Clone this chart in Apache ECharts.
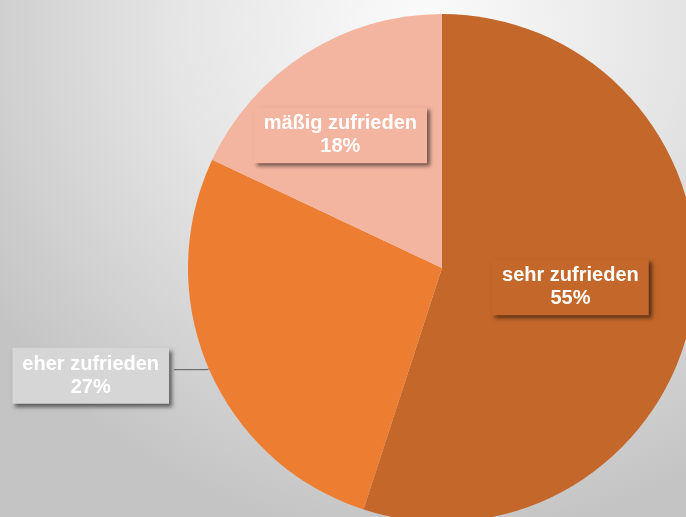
<!DOCTYPE html>
<html>
<head>
<meta charset="utf-8">
<script src="https://cdn.jsdelivr.net/npm/echarts@6/dist/echarts.min.js"></script>
<style>
  html, body { margin: 0; padding: 0; }
  #main { width: 686px; height: 517px; }
</style>
</head>
<body>
<div id="main"></div>
<script>
// Zufriedenheit – Daten
var categories = ["sehr zufrieden", "eher zufrieden", "mäßig zufrieden"];
var values = [55, 27, 18];
var sliceColors = ["#C4672A", "#ED7D31", "#F4B5A0"];
var boxColors = ["#C4672A", "#D6D6D6", "#F4B5A0"];
var labelOffsets = [[0, -1], [0, 6], [-32, -23]];

(function () {
  var myChart = echarts.init(document.getElementById("main"));

  var data = categories.map(function (name, i) {
    var item = {
      name: name,
      value: values[i],
      itemStyle: { color: sliceColors[i] },
      label: {
        backgroundColor: boxColors[i],
        offset: labelOffsets[i]
      }
    };
    // eher zufrieden steht außen mit Linie
    if (i === 1) {
      item.label.position = "outside";
      item.labelLine = { show: true, length: 2, length2: 33 };
    }
    return item;
  });

  var option = {
    backgroundColor: {
      type: "radial",
      x: 0.62, y: 0.05, r: 1.0,
      colorStops: [
        { offset: 0, color: "#fbfbfb" },
        { offset: 0.5, color: "#e4e4e4" },
        { offset: 1, color: "#c4c4c4" }
      ]
    },
    animation: false,
    series: [
      {
        type: "pie",
        center: [442, 268],
        radius: 254,
        startAngle: 90,
        clockwise: true,
        data: data,
        label: {
          show: true,
          position: "inside",
          formatter: "{b}\n{c}%",
          color: "#ffffff",
          fontFamily: "Liberation Sans, Arial, sans-serif",
          fontWeight: "bold",
          fontSize: 20,
          lineHeight: 23,
          align: "center",
          overflow: "none",
          padding: [5, 10, 5, 10],
          shadowColor: "rgba(0,0,0,0.55)",
          shadowBlur: 4,
          shadowOffsetX: 3,
          shadowOffsetY: 3
        },
        // Außenlabel zentriert setzen, rechte Kante bleibt an der Linie
        labelLayout: function (params) {
          if (params.dataIndex === 1) {
            return { align: "center", dx: -params.labelRect.width / 2 };
          }
        },
        labelLine: {
          show: false,
          lineStyle: { color: "#595959", width: 1 }
        }
      }
    ]
  };

  myChart.setOption(option);
  window.addEventListener("resize", function () {
    myChart.resize();
  });
})();
</script>
</body>
</html>
